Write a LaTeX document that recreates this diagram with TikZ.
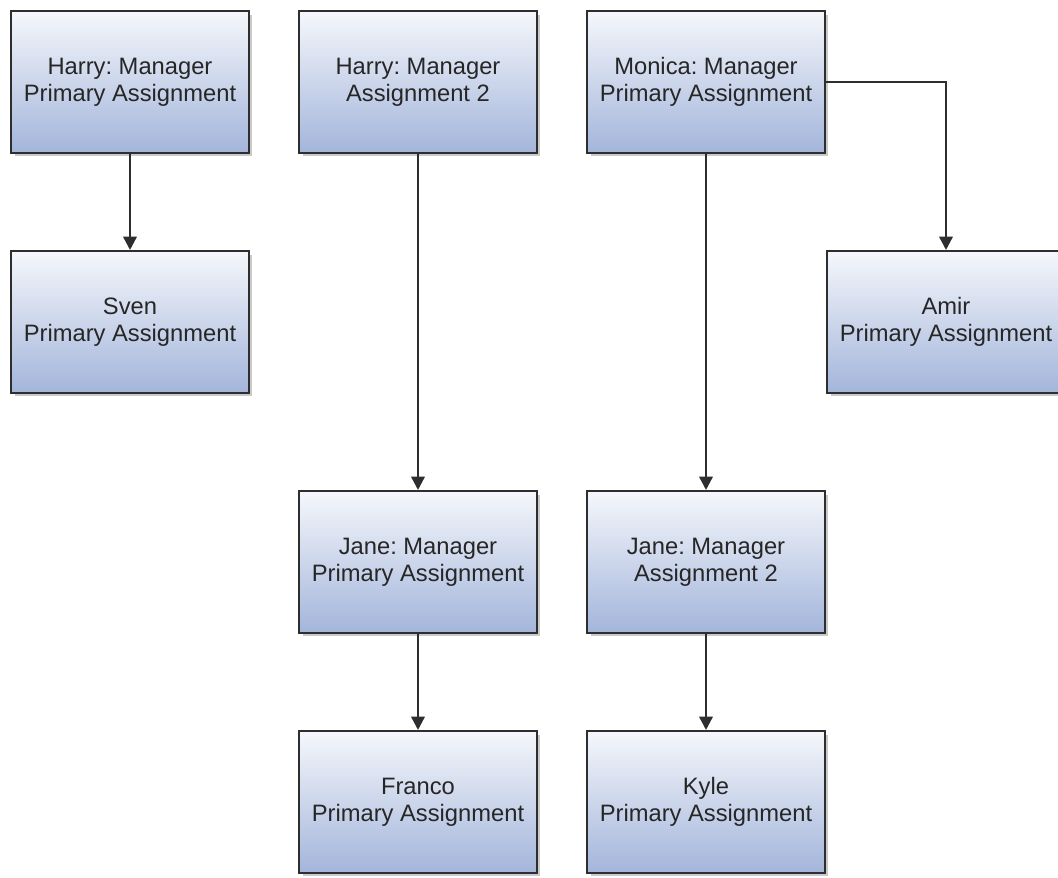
\documentclass[tikz,border=0pt]{standalone}
\usepackage{fontspec}
\setmainfont{Liberation Sans}
\usetikzlibrary{arrows.meta,shadows}
\definecolor{boxtop}{HTML}{F5F7FB}
\definecolor{boxbot}{HTML}{A3B5DB}
\definecolor{edge}{HTML}{2E2E2E}
\frenchspacing
\begin{document}
\begin{tikzpicture}[x=0.75pt,y=-0.75pt,
  person/.style={draw=edge,line width=1.8pt,top color=boxtop,bottom color=boxbot,
    minimum width=178.2pt,minimum height=106.2pt,align=center,text=black!85,
    font=\fontsize{17.8}{20.5}\selectfont,
    drop shadow={shadow xshift=2.5pt,shadow yshift=-2.5pt,opacity=0.35,fill=black!60}},
  link/.style={draw=edge,line width=1.8pt,-{Triangle[width=10pt,length=10pt]}}]
\useasboundingbox (0,0) rectangle (1058,878);
\node[person] (harryp) at (130,82) {Harry: Manager\\Primary Assignment};
\node[person] (harrya) at (418,82) {Harry: Manager\\Assignment 2};
\node[person] (monica) at (706,82) {Monica: Manager\\Primary Assignment};
\node[person] (sven) at (130,322) {Sven\\Primary Assignment};
\node[person] (amir) at (946,322) {Amir\\Primary Assignment};
\node[person] (janep) at (418,562) {Jane: Manager\\Primary Assignment};
\node[person] (janea) at (706,562) {Jane: Manager\\Assignment 2};
\node[person] (franco) at (418,802) {Franco\\Primary Assignment};
\node[person] (kyle) at (706,802) {Kyle\\Primary Assignment};
\draw[link] (harryp) -- (sven);
\draw[link] (harrya) -- (janep);
\draw[link] (monica) -- (janea);
\draw[link] (monica.east) -| (amir.north);
\draw[link] (janep) -- (franco);
\draw[link] (janea) -- (kyle);
\end{tikzpicture}
\end{document}
